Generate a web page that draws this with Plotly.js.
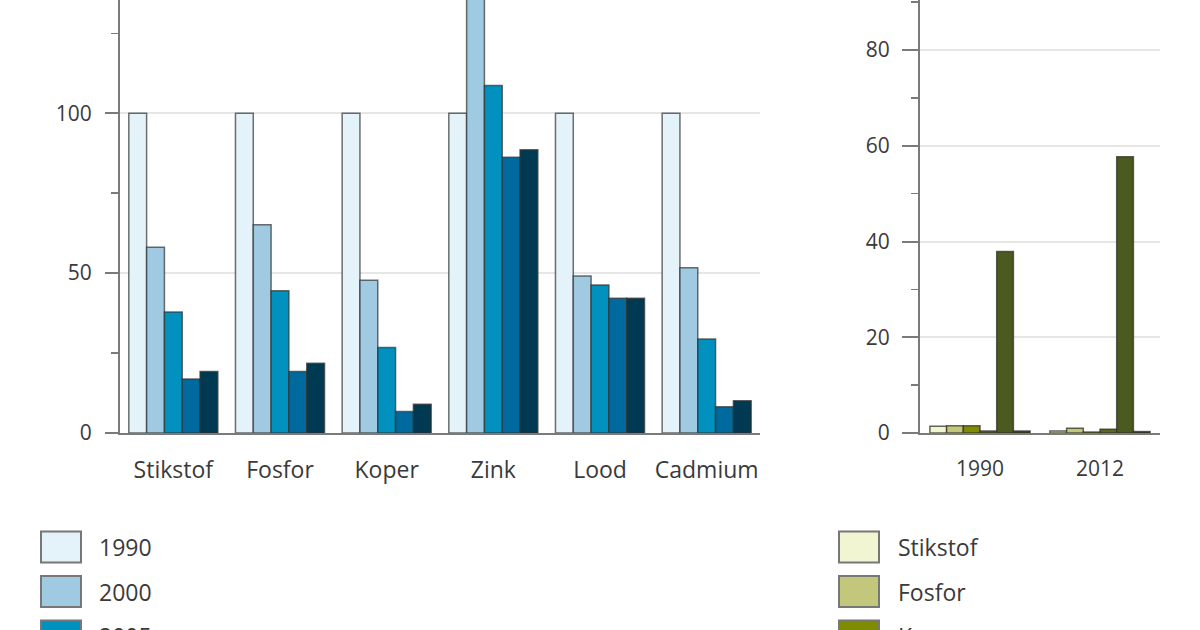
<!DOCTYPE html>
<html><head><meta charset="utf-8">
<script src="https://cdn.plot.ly/plotly-3.0.1.min.js"></script>
<style>html,body{margin:0;padding:0;background:#fff}#chart{width:1200px;height:630px}</style>
</head><body><div id="chart"></div>
<script>
// ---- Data: left chart (index, 1990 = 100) ----
const stoffen = ['Stikstof', 'Fosfor', 'Koper', 'Zink', 'Lood', 'Cadmium'];
const jaren = ['1990', '2000', '2005', '2010', '2012'];
const v1990 = [100, 100, 100, 100, 100, 100];
const v2000 = [58.1, 65.1, 47.8, 142, 49.1, 51.7];
const v2005 = [37.8, 44.5, 26.7, 108.7, 46.3, 29.4];
const v2010 = [16.9, 19.2, 6.7, 86.2, 42.1, 8.2];
const v2012 = [19.2, 21.8, 9.0, 88.6, 42.1, 10.1];
const blauw = ['#e4f2fa', '#9fcae1', '#0091bf', '#006a9f', '#003a52'];

// ---- Data: right chart ----
const rechtsJaren = ['1990', '2012'];
const rechtsNamen = ['Stikstof', 'Fosfor', 'Koper', 'Zink', 'Lood', 'Cadmium'];
const rStikstof = [1.4, 0.4];
const rFosfor = [1.5, 1.0];
const rKoper = [1.5, 0.2];
const rZink = [0.4, 0.8];
const rLood = [37.9, 57.7];
const rCadmium = [0.4, 0.3];
const groen = ['#f2f5d2', '#c3c77b', '#7f8b00', '#5a6820', '#4b5a1e', '#3a4418'];

const FONT = 'Open Sans, Noto Sans, sans-serif';
const TXT = '#3a3a3a';
const W = 1200, H = 630;
const px = x => x / W;
const py = y => (H - y) / H;

const linksWaarden = [v1990, v2000, v2005, v2010, v2012];
const rechtsWaarden = [rStikstof, rFosfor, rKoper, rZink, rLood, rCadmium];

const traces = [];
linksWaarden.forEach((vals, i) => {
  traces.push({
    type: 'bar', x: stoffen, y: vals, name: jaren[i],
    xaxis: 'x', yaxis: 'y', showlegend: false,
    marker: {color: blauw[i], line: {color: 'rgba(50,50,50,0.7)', width: 1.5}},
    hoverinfo: 'skip'
  });
});
rechtsWaarden.forEach((vals, i) => {
  traces.push({
    type: 'bar', x: rechtsJaren, y: vals, name: rechtsNamen[i],
    xaxis: 'x2', yaxis: 'y2', showlegend: false,
    marker: {color: groen[i], line: {color: 'rgba(50,50,40,0.75)', width: 1.5}},
    hoverinfo: 'skip'
  });
});

// ---- Custom legends (box + label) ----
const shapes = [], annotations = [];
function legenda(namen, kleuren, boxX, textX) {
  namen.forEach((n, i) => {
    const cy = 547 + i * 44.5;
    shapes.push({type: 'rect', xref: 'paper', yref: 'paper',
      x0: px(boxX), x1: px(boxX + 40), y0: py(cy + 15.5), y1: py(cy - 15.5),
      fillcolor: kleuren[i], line: {color: '#777', width: 2}});
    annotations.push({xref: 'paper', yref: 'paper', x: px(textX), y: py(cy),
      xanchor: 'left', yanchor: 'middle', text: n, showarrow: false,
      font: {family: FONT, size: 23, color: TXT}});
  });
}
legenda(jaren, blauw, 41, 97);
legenda(rechtsNamen, groen, 839, 896);

const axisCommon = {
  showline: true, linecolor: '#7a7a7a', linewidth: 2,
  tickfont: {family: FONT, size: 21, color: TXT}, fixedrange: true
};

const layout = {
  width: W, height: H,
  margin: {l: 0, r: 0, t: 0, b: 0},
  paper_bgcolor: '#fff', plot_bgcolor: '#fff',
  barmode: 'group', bargap: 0.165, bargroupgap: 0,
  showlegend: false,
  xaxis: Object.assign({}, axisCommon, {
    domain: [px(120), px(760)], anchor: 'y', ticks: '', type: 'category',
    ticklabelstandoff: 15, tickfont: {family: FONT, size: 23, color: TXT}
  }),
  yaxis: Object.assign({}, axisCommon, {
    domain: [py(433), 1], anchor: 'x', range: [0, 135.4],
    tickvals: [0, 50, 100, 150], ticks: 'outside', ticklen: 13, tickwidth: 2, tickcolor: '#7a7a7a',
    showgrid: true, gridcolor: '#e6e6e6', gridwidth: 2, zeroline: false,
    ticklabelstandoff: 9,
    minor: {tickvals: [25, 75, 125], ticks: 'outside', ticklen: 7, tickwidth: 1.5, tickcolor: '#7a7a7a', showgrid: false}
  }),
  xaxis2: Object.assign({}, axisCommon, {
    domain: [px(920), px(1160)], anchor: 'y2', ticks: '', type: 'category',
    ticklabelstandoff: 16, tickfont: {family: FONT, size: 21, color: TXT}
  }),
  yaxis2: Object.assign({}, axisCommon, {
    domain: [py(433), 1], anchor: 'x2', range: [0, 90.45],
    tickvals: [0, 20, 40, 60, 80], ticks: 'outside', ticklen: 16, tickwidth: 2, tickcolor: '#7a7a7a',
    showgrid: true, gridcolor: '#e6e6e6', gridwidth: 2, zeroline: false,
    ticklabelstandoff: 8,
    minor: {tickvals: [10, 30, 50, 70, 90], ticks: 'outside', ticklen: 7, tickwidth: 1.5, tickcolor: '#7a7a7a', showgrid: false}
  }),
  shapes: shapes,
  annotations: annotations
};

Plotly.newPlot('chart', traces, layout, {displayModeBar: false, staticPlot: true});
</script>
</body></html>
